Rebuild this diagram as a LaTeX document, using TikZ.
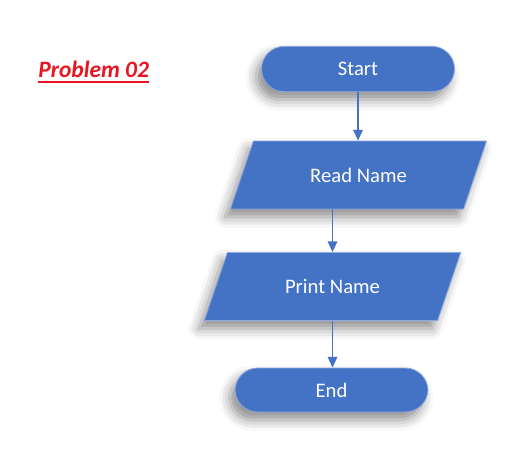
\documentclass[tikz,border=0pt]{standalone}
\usepackage{fontspec}
\setmainfont{Carlito}
\usepackage{xcolor}
\usetikzlibrary{arrows.meta,shapes.geometric,shadows.blur}
\definecolor{flowblue}{RGB}{68,114,196}
\definecolor{titlered}{RGB}{232,22,32}

\begin{document}
\begin{tikzpicture}[x=0.75pt,y=-0.75pt,>=Stealth,line join=round,
  boxshadow/.style={blur shadow={shadow xshift=-4pt,shadow yshift=-6pt,shadow blur radius=8pt,shadow opacity=45}},
  terminal/.style={rectangle,rounded corners=17pt,minimum width=144.75pt,minimum height=34pt,
    fill=flowblue,draw=flowblue!60!white,line width=0.6pt,text=white,font=\fontsize{15.5}{18}\selectfont,boxshadow},
  inout/.style={trapezium,trapezium left angle=54,trapezium right angle=126,trapezium stretches=true,
    minimum width=192.75pt,minimum height=51pt,inner sep=0pt,
    fill=flowblue,draw=flowblue!60!white,line width=0.6pt,text=white,font=\fontsize{15.5}{18}\selectfont,boxshadow},
  flow/.style={-{Triangle[length=8pt,width=7pt]},line width=1.4pt,draw=flowblue}]
  \useasboundingbox (0,0) rectangle (523,453);
  % heading
  \node[anchor=base west,inner sep=0pt,text=titlered,font=\fontsize{17.6}{20}\selectfont\bfseries\itshape] (ttl) at (38,77) {Problem 02};
  \draw[titlered,line width=1.4pt] ([yshift=-3.5pt]ttl.base west) -- ([yshift=-3.5pt]ttl.base east);
  % flow chart
  \node[terminal] (start) at (358,69) {Start};
  \node[inout] (rd) at (358.5,175) {Read Name};
  \node[inout] (pn) at (332.5,286.5) {Print Name};
  \node[terminal,minimum height=33pt] (end) at (331.5,390) {End};
  \draw[flow] (start.south) -- (start.south |- rd.north);
  \draw[flow] (pn.north |- rd.south) -- (pn.north);
  \draw[flow] (pn.south) -- (pn.south |- end.north);
\end{tikzpicture}
\end{document}
